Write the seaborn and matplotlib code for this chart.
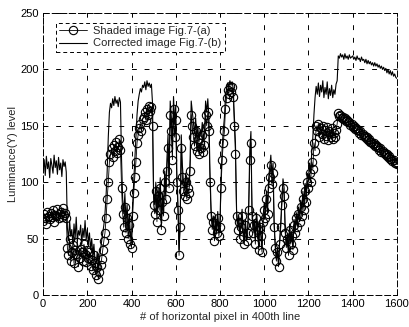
import numpy as np
import pandas as pd
import seaborn as sns
import matplotlib
matplotlib.use("Agg")
import matplotlib.pyplot as plt

# horizontal pixel positions (every 5th pixel of the 400th line)
pixel = list(range(0, 1601, 5))

shaded = [
    66, 72, 68, 63, 74, 70, 67, 73, 69, 75, 65, 71, 70, 76, 68, 72, 74, 69, 77, 71,          # 0-95
    73, 68, 42, 35, 50, 30, 38, 44, 28, 40, 36, 47, 25, 33, 41, 38, 30, 45, 36, 29,          # 100-195
    40, 33, 38, 26, 31, 22, 35, 28, 18, 25, 14, 20, 27, 32, 40, 48, 55, 68, 85, 100,         # 200-295
    118, 125, 130, 122, 133, 128, 136, 126, 131, 138, 129, 95, 72, 60, 78, 55, 68, 50, 62, 45,  # 300-395
    42, 70, 90, 105, 118, 135, 142, 148, 152, 145, 156, 158, 162, 155, 165, 160, 168, 163, 167, 150,  # 400-495
    80, 72, 92, 65, 88, 75, 95, 58, 82, 70, 100, 85, 110, 130, 95, 160, 145, 120, 165, 140,  # 500-595
    155, 100, 75, 35, 60, 130, 105, 92, 88, 100, 85, 95, 90, 110, 160, 150, 140, 132, 145, 128,  # 600-695
    138, 125, 135, 130, 142, 127, 133, 160, 150, 162, 145, 100, 70, 58, 65, 48, 62, 55, 68, 52,  # 700-795
    60, 95, 120, 135, 145, 165, 175, 182, 178, 185, 180, 184, 176, 150, 125, 70, 58, 65, 50, 60,  # 800-895
    70, 52, 45, 62, 48, 55, 75, 120, 135, 70, 55, 62, 45, 68, 58, 40, 60, 52, 38, 65,        # 900-995
    75, 68, 85, 72, 95, 105, 115, 98, 108, 60, 42, 30, 38, 25, 45, 60, 80, 95, 88, 55,       # 1000-1095
    42, 50, 35, 58, 45, 52, 40, 62, 55, 68, 60, 72, 65, 78, 70, 85, 75, 92, 82, 100,         # 1100-1195
    95, 108, 100, 118, 112, 135, 128, 150, 145, 152, 140, 148, 143, 150, 138, 146, 141, 149, 137, 145,  # 1200-1295
    140, 148, 138, 144, 140, 146, 152, 161, 159, 160, 157, 158, 156, 157, 154, 155, 153, 153, 151, 152,  # 1300-1395
    149, 150, 147, 148, 146, 146, 144, 145, 142, 143, 141, 141, 139, 140, 137, 138, 136, 136, 134, 135,  # 1400-1495
    132, 133, 131, 131, 129, 130, 127, 128, 126, 126, 124, 125, 122, 123, 121, 121, 119, 120, 117, 118,  # 1500-1595
    116,                                                                                      # 1600
]

corrected = [
    110, 120, 106, 123, 112, 118, 104, 121, 115, 108, 124, 113, 119, 107, 122, 111, 117, 105, 120, 114,  # 0-95
    118, 109, 60, 48, 66, 52, 58, 44, 63, 50, 69, 47, 57, 53, 62, 45, 59, 51, 66, 49,        # 100-195
    58, 46, 55, 40, 50, 35, 45, 30, 28, 38, 22, 32, 40, 48, 55, 62, 72, 88, 110, 140,        # 200-295
    162, 170, 166, 174, 168, 176, 170, 173, 167, 175, 171, 120, 85, 72, 90, 65, 80, 58, 72, 52,  # 300-395
    48, 80, 100, 120, 140, 160, 172, 178, 183, 180, 186, 184, 189, 182, 190, 185, 188, 184, 187, 170,  # 400-495
    88, 80, 100, 72, 95, 82, 104, 64, 90, 76, 110, 93, 120, 142, 104, 172, 158, 130, 176, 152,  # 500-595
    168, 108, 82, 40, 66, 142, 115, 100, 96, 108, 92, 104, 98, 120, 172, 162, 152, 143, 157, 139,  # 600-695
    149, 136, 146, 141, 153, 138, 144, 172, 162, 174, 157, 108, 76, 63, 70, 52, 67, 60, 74, 56,  # 700-795
    65, 103, 130, 146, 157, 176, 183, 188, 185, 190, 186, 189, 183, 160, 135, 76, 63, 70, 54, 65,  # 800-895
    76, 56, 49, 67, 52, 59, 81, 130, 145, 76, 59, 67, 49, 73, 63, 43, 65, 56, 41, 70,        # 900-995
    81, 73, 92, 78, 103, 113, 124, 106, 117, 65, 45, 32, 41, 27, 49, 65, 86, 103, 95, 59,    # 1000-1095
    45, 54, 38, 63, 49, 56, 43, 67, 59, 73, 65, 78, 70, 84, 76, 92, 81, 99, 89, 108,         # 1100-1195
    103, 117, 108, 127, 140, 160, 175, 185, 178, 188, 176, 186, 180, 190, 175, 184, 178, 189, 174, 183,  # 1200-1295
    177, 186, 175, 182, 178, 187, 190, 212, 210, 214, 211, 213, 209, 214, 210, 212, 209, 213, 210, 211,  # 1300-1395
    212, 209, 211, 208, 212, 209, 210, 207, 211, 208, 209, 206, 209, 205, 208, 205, 207, 204, 206, 203,  # 1400-1495
    206, 203, 205, 202, 204, 201, 203, 200, 202, 199, 201, 197, 200, 196, 199, 195, 198, 194, 196, 193,  # 1500-1595
    192,                                                                                      # 1600
]

x_ticks = [0, 200, 400, 600, 800, 1000, 1200, 1400, 1600]
y_ticks = [0, 50, 100, 150, 200, 250]

df = pd.DataFrame({"pixel": pixel, "shaded": shaded, "corrected": corrected})

sns.set_theme(style="white")
plt.rcParams["font.family"] = ["Liberation Sans", "DejaVu Sans"]

fig = plt.figure(figsize=(4.10, 3.27), dpi=100)
ax = fig.add_axes([0.105, 0.098, 0.863, 0.862])

sns.lineplot(data=df, x="pixel", y="shaded", ax=ax, color="black", lw=0.6,
             marker="o", markersize=6, markerfacecolor="none",
             markeredgecolor="black", markeredgewidth=0.8,
             label="Shaded image Fig.7-(a)")
sns.lineplot(data=df, x="pixel", y="corrected", ax=ax, color="black", lw=0.8,
             label="Corrected image Fig.7-(b)")

ax.set_xlim(0, 1600)
ax.set_ylim(0, 250)
ax.set_xticks(x_ticks)
ax.set_yticks(y_ticks)
ax.tick_params(direction="in", length=3, width=0.6, labelsize=8, colors="black",
               top=True, right=True, bottom=True, left=True, pad=3)
ax.grid(True, color="black", linestyle=(0, (5, 8)), linewidth=0.7)
for s in ax.spines.values():
    s.set_visible(True)
    s.set_color("black")
    s.set_linewidth(0.7)
    s.set_linestyle((0, (6, 3)))

ax.set_xlabel("# of horizontal pixel in 400th line", fontsize=8, labelpad=2)
ax.set_ylabel("Luminance(Y) level", fontsize=8, labelpad=2)

leg = ax.legend(loc="upper left", fontsize=8, frameon=True, fancybox=False,
                borderpad=0.3, handlelength=2.5, handletextpad=0.6,
                labelspacing=0.2, bbox_to_anchor=(0.02, 0.985))
leg.get_frame().set_edgecolor("black")
leg.get_frame().set_linewidth(0.7)
leg.get_frame().set_linestyle((0, (4, 3)))
leg.get_frame().set_alpha(1)

fig.savefig("out.png", dpi=100)
